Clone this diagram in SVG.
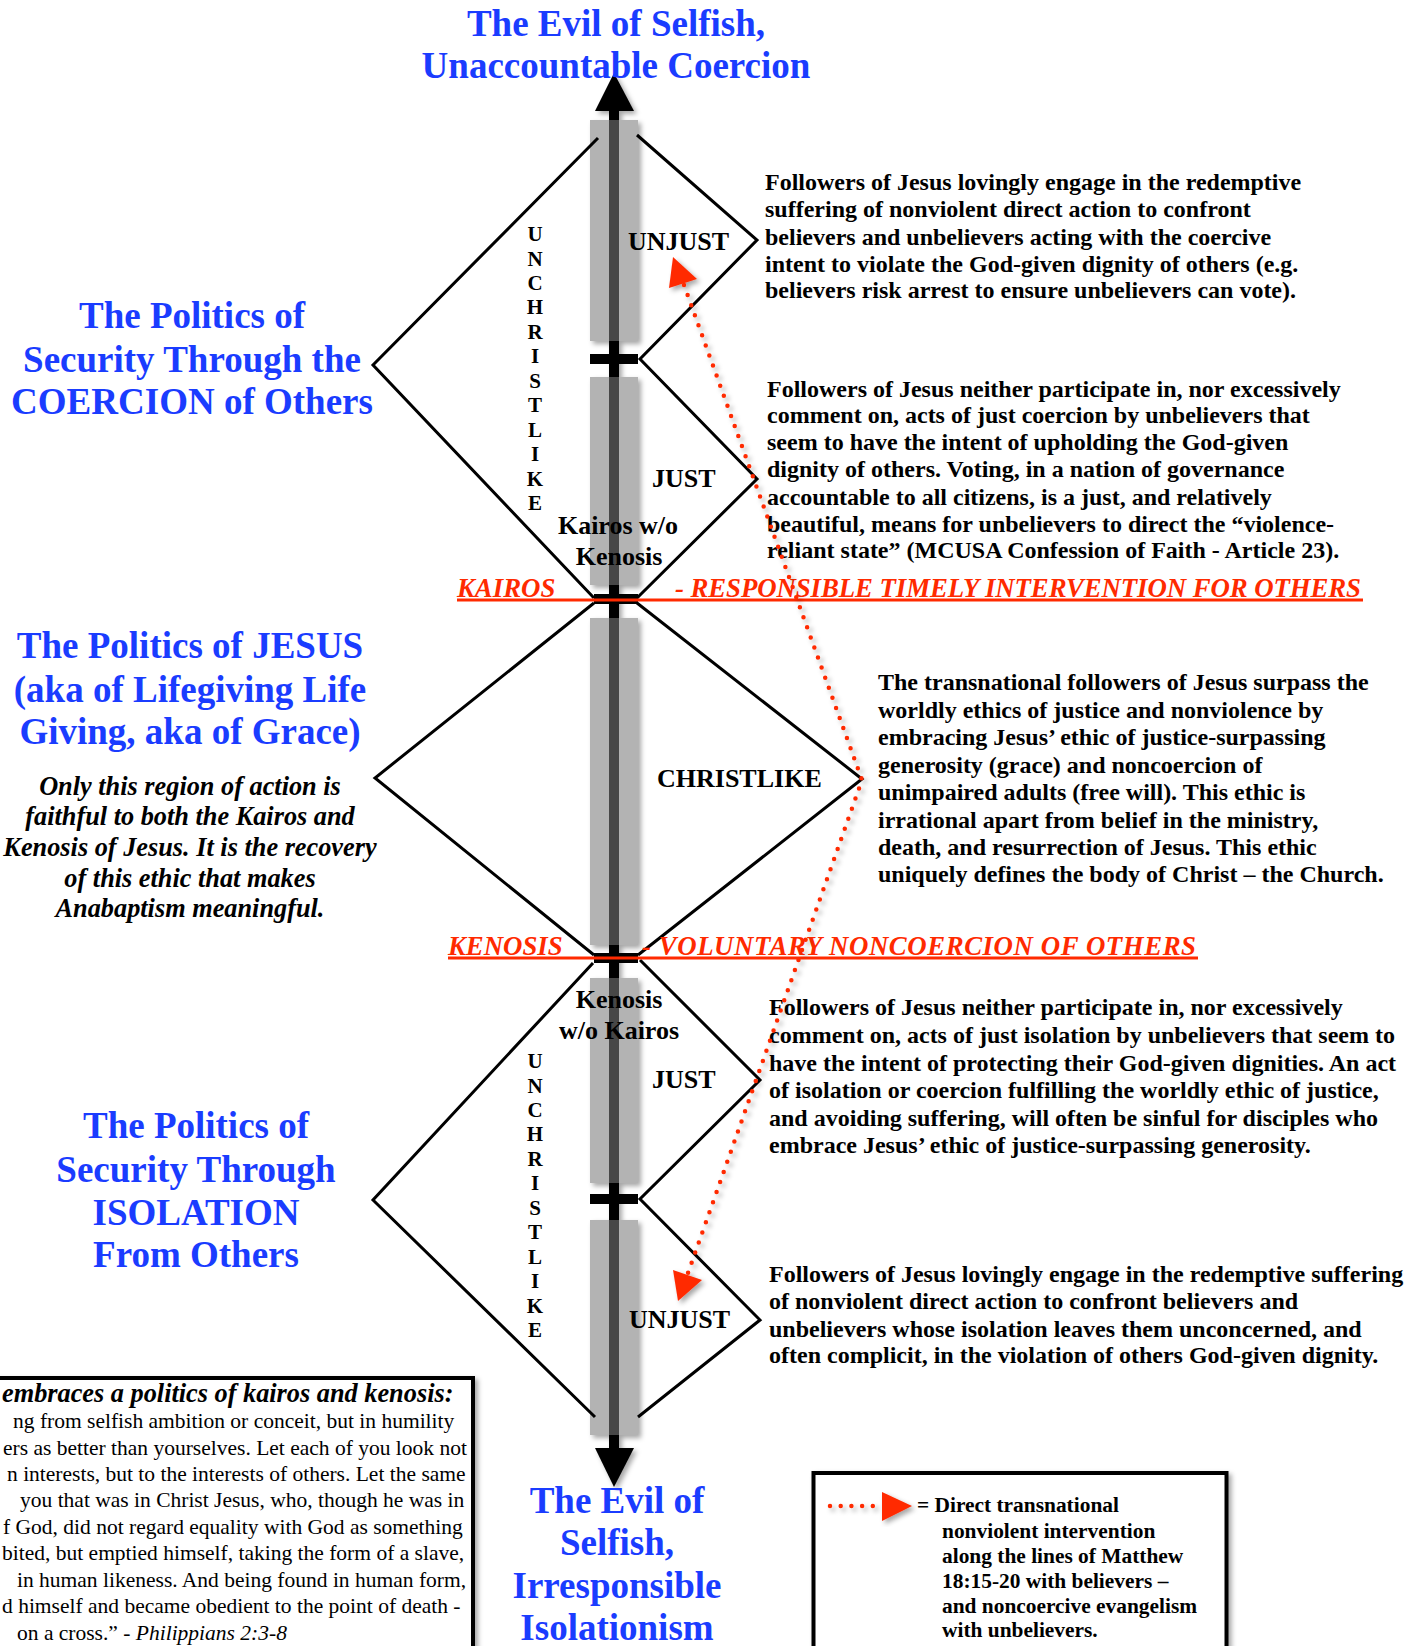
<svg xmlns="http://www.w3.org/2000/svg" width="1419" height="1646" viewBox="0 0 1419 1646">
<defs>
<style>
.blue{font-family:"Liberation Serif","Times New Roman",serif;font-weight:bold;font-size:37px;fill:#1a3cff;text-anchor:middle}
.lbl{font-family:"Liberation Serif","Times New Roman",serif;font-weight:bold;font-size:26px;fill:#000}
.mid{text-anchor:middle}
.body{font-family:"Liberation Serif","Times New Roman",serif;font-weight:bold;font-size:24px;fill:#000}
.ital{font-family:"Liberation Serif","Times New Roman",serif;font-weight:bold;font-style:italic;font-size:26.3px;fill:#000;text-anchor:middle}
.red{font-family:"Liberation Serif","Times New Roman",serif;font-weight:bold;font-style:italic;font-size:26.8px;fill:#ff2a00}
.vert{font-family:"Liberation Serif","Times New Roman",serif;font-weight:bold;font-size:21px;fill:#000;text-anchor:middle}
.quote{font-family:"Liberation Serif","Times New Roman",serif;font-size:21.5px;fill:#000}
.legend{font-family:"Liberation Serif","Times New Roman",serif;font-weight:bold;font-size:21.4px;fill:#000}
.diamond{fill:none;stroke:#000;stroke-width:3;stroke-linejoin:miter}
.band{fill:#b3b3b3}
.core{stroke:#474747;stroke-width:10}
.tick{fill:#000}
.redline{stroke:#ff2a00;stroke-width:3}
.dots{fill:none;stroke:#ff2a00;stroke-width:4.5;stroke-linecap:round;stroke-dasharray:0 10.7}
.head{fill:#ff2a00}
.box{fill:#fff;stroke:#000;stroke-width:4}
</style>
<filter id="sh" x="-20%" y="-20%" width="140%" height="140%"><feDropShadow dx="3" dy="3" stdDeviation="2.5" flood-color="#000" flood-opacity="0.35"/></filter>
</defs>
<rect x="0" y="0" width="1419" height="1646" fill="#fff"/>

<g id="axis">
  <g filter="url(#sh)">
    <line x1="614" y1="105" x2="614" y2="1452" stroke="#000" stroke-width="10"/>
    <polygon points="614,73 595,111 634,111" fill="#000"/>
    <polygon points="614,1487 595,1448 634,1448" fill="#000"/>
    <rect class="band" x="590" y="120" width="48" height="221"/>
    <rect class="band" x="590" y="377" width="48" height="208"/>
    <rect class="band" x="590" y="618" width="48" height="327"/>
    <rect class="band" x="590" y="978" width="48" height="205"/>
    <rect class="band" x="590" y="1220" width="48" height="215"/>
  </g>
  <line class="core" x1="614" y1="120" x2="614" y2="341"/>
  <line class="core" x1="614" y1="377" x2="614" y2="585"/>
  <line class="core" x1="614" y1="618" x2="614" y2="945"/>
  <line class="core" x1="614" y1="978" x2="614" y2="1183"/>
  <line class="core" x1="614" y1="1220" x2="614" y2="1435"/>
  <rect class="tick" x="590" y="354" width="48" height="10"/>
  <rect class="tick" x="590" y="1194" width="48" height="10"/>
  <rect class="tick" x="594" y="594" width="44" height="10"/>
  <rect class="tick" x="594" y="953" width="44" height="10"/>
</g>

<g id="coercion-region">
  <polyline class="diamond" points="598,138 373,365 594,598"/>
  <polyline class="diamond" points="637,135 757,240 640,359 757,479 637,598"/>
  <text class="vert"><tspan x="535" y="241">U</tspan><tspan x="535" y="265.5">N</tspan><tspan x="535" y="290">C</tspan><tspan x="535" y="314.4">H</tspan><tspan x="535" y="338.8">R</tspan><tspan x="535" y="363.3">I</tspan><tspan x="535" y="387.7">S</tspan><tspan x="535" y="412.2">T</tspan><tspan x="535" y="436.6">L</tspan><tspan x="535" y="461">I</tspan><tspan x="535" y="485.5">K</tspan><tspan x="535" y="510">E</tspan></text>
  <text class="lbl" x="628" y="250">UNJUST</text>
  <text class="lbl" x="652" y="487">JUST</text>
  <text class="lbl mid" x="618" y="534">Kairos w/o</text>
  <text class="lbl mid" x="619" y="565">Kenosis</text>
</g>

<g id="christlike-region">
  <polyline class="diamond" points="594,603 375,778 594,955"/>
  <polyline class="diamond" points="637,603 862,779 638,955"/>
  <text class="lbl" x="657" y="787">CHRISTLIKE</text>
</g>

<g id="isolation-region">
  <polyline class="diamond" points="593,963 373,1200 595,1417"/>
  <polyline class="diamond" points="640,960 760,1080 640,1199 760,1320 638,1417"/>
  <text class="vert"><tspan x="535" y="1068">U</tspan><tspan x="535" y="1092.5">N</tspan><tspan x="535" y="1117">C</tspan><tspan x="535" y="1141.4">H</tspan><tspan x="535" y="1165.8">R</tspan><tspan x="535" y="1190.3">I</tspan><tspan x="535" y="1214.7">S</tspan><tspan x="535" y="1239.2">T</tspan><tspan x="535" y="1263.6">L</tspan><tspan x="535" y="1288">I</tspan><tspan x="535" y="1312.5">K</tspan><tspan x="535" y="1337">E</tspan></text>
  <text class="lbl mid" x="619" y="1008">Kenosis</text>
  <text class="lbl mid" x="619" y="1039">w/o Kairos</text>
  <text class="lbl" x="652" y="1088">JUST</text>
  <text class="lbl" x="629" y="1328">UNJUST</text>
</g>

<g id="kairos-line">
  <line class="redline" x1="457" y1="600" x2="1363" y2="600"/>
  <text class="red" x="457" y="597">KAIROS</text>
  <text class="red" x="675" y="597" textLength="686">- RESPONSIBLE TIMELY INTERVENTION FOR OTHERS</text>
</g>
<g id="kenosis-line">
  <line class="redline" x1="448" y1="958" x2="1198" y2="958"/>
  <text class="red" x="448" y="955">KENOSIS</text>
  <text class="red" x="642" y="955" textLength="554">- VOLUNTARY NONCOERCION OF OTHERS</text>
</g>

<g id="title-top">
  <text class="blue" x="616" y="36">The Evil of Selfish,</text>
  <text class="blue" x="616" y="78">Unaccountable Coercion</text>
</g>
<g id="title-coercion">
  <text class="blue" x="192" y="328">The Politics of</text>
  <text class="blue" x="192" y="372">Security Through the</text>
  <text class="blue" x="192" y="414">COERCION of Others</text>
</g>
<g id="title-jesus">
  <text class="blue" x="190" y="658">The Politics of JESUS</text>
  <text class="blue" x="190" y="702">(aka of Lifegiving Life</text>
  <text class="blue" x="190" y="744">Giving, aka of Grace)</text>
  <text class="ital" x="190" y="795">Only this region of action is</text>
  <text class="ital" x="190" y="825">faithful to both the Kairos and</text>
  <text class="ital" x="190" y="856">Kenosis of Jesus. It is the recovery</text>
  <text class="ital" x="190" y="887">of this ethic that makes</text>
  <text class="ital" x="190" y="917">Anabaptism meaningful.</text>
</g>
<g id="title-isolation">
  <text class="blue" x="196" y="1138">The Politics of</text>
  <text class="blue" x="196" y="1182">Security Through</text>
  <text class="blue" x="196" y="1225">ISOLATION</text>
  <text class="blue" x="196" y="1267">From Others</text>
</g>
<g id="title-bottom">
  <text class="blue" x="617" y="1513">The Evil of</text>
  <text class="blue" x="617" y="1555">Selfish,</text>
  <text class="blue" x="617" y="1598">Irresponsible</text>
  <text class="blue" x="617" y="1640">Isolationism</text>
</g>

<g id="text-unjust-coercion" class="body">
  <text x="765" y="190">Followers of Jesus lovingly engage in the redemptive</text>
  <text x="765" y="217">suffering of nonviolent direct action to confront</text>
  <text x="765" y="245">believers and unbelievers acting with the coercive</text>
  <text x="765" y="272">intent to violate the God-given dignity of others (e.g.</text>
  <text x="765" y="298">believers risk arrest to ensure unbelievers can vote).</text>
</g>
<g id="text-just-coercion" class="body">
  <text x="767" y="397">Followers of Jesus neither participate in, nor excessively</text>
  <text x="767" y="423">comment on, acts of just coercion by unbelievers that</text>
  <text x="767" y="450">seem to have the intent of upholding the God-given</text>
  <text x="767" y="477">dignity of others. Voting, in a nation of governance</text>
  <text x="767" y="505">accountable to all citizens, is a just, and relatively</text>
  <text x="767" y="532">beautiful, means for unbelievers to direct the “violence-</text>
  <text x="767" y="558">reliant state” (MCUSA Confession of Faith - Article 23).</text>
</g>
<g id="text-christlike" class="body">
  <text x="878" y="690">The transnational followers of Jesus surpass the</text>
  <text x="878" y="718">worldly ethics of justice and nonviolence by</text>
  <text x="878" y="745">embracing Jesus’ ethic of justice-surpassing</text>
  <text x="878" y="773">generosity (grace) and noncoercion of</text>
  <text x="878" y="800">unimpaired adults (free will). This ethic is</text>
  <text x="878" y="828">irrational apart from belief in the ministry,</text>
  <text x="878" y="855">death, and resurrection of Jesus. This ethic</text>
  <text x="878" y="882">uniquely defines the body of Christ – the Church.</text>
</g>
<g id="text-just-isolation" class="body">
  <text x="769" y="1015">Followers of Jesus neither participate in, nor excessively</text>
  <text x="769" y="1043">comment on, acts of just isolation by unbelievers that seem to</text>
  <text x="769" y="1071">have the intent of protecting their God-given dignities. An act</text>
  <text x="769" y="1098">of isolation or coercion fulfilling the worldly ethic of justice,</text>
  <text x="769" y="1126">and avoiding suffering, will often be sinful for disciples who</text>
  <text x="769" y="1153">embrace Jesus’ ethic of justice-surpassing generosity.</text>
</g>
<g id="text-unjust-isolation" class="body">
  <text x="769" y="1282">Followers of Jesus lovingly engage in the redemptive suffering</text>
  <text x="769" y="1309">of nonviolent direct action to confront believers and</text>
  <text x="769" y="1337">unbelievers whose isolation leaves them unconcerned, and</text>
  <text x="769" y="1363">often complicit, in the violation of others God-given dignity.</text>
</g>

<g id="connectors" filter="url(#sh)">
  <path class="dots" d="M684,285 L862,780 L688,1273"/>
  <polygon class="head" points="673,257 669,288 697,279"/>
  <polygon class="head" points="678,1301 673,1270 702,1280"/>
</g>

<g id="quote-box">
  <rect class="box" x="-10" y="1378" width="483" height="300" filter="url(#sh)"/>
  <text class="ital" x="2" y="1402" style="text-anchor:start">embraces a politics of kairos and kenosis:</text>
  <text class="quote" x="13" y="1428">ng from selfish ambition or conceit, but in humility</text>
  <text class="quote" x="3" y="1455">ers as better than yourselves. Let each of you look not</text>
  <text class="quote" x="7" y="1481">n interests, but to the interests of others. Let the same</text>
  <text class="quote" x="20" y="1507">you that was in Christ Jesus, who, though he was in</text>
  <text class="quote" x="3" y="1534">f God, did not regard equality with God as something</text>
  <text class="quote" x="2" y="1560">bited, but emptied himself, taking the form of a slave,</text>
  <text class="quote" x="17" y="1587">in human likeness. And being found in human form,</text>
  <text class="quote" x="2" y="1613">d himself and became obedient to the point of death -</text>
  <text class="quote" x="17" y="1640">on a cross.” - <tspan font-style="italic">Philippians 2:3-8</tspan></text>
</g>

<g id="legend-box">
  <rect class="box" x="813.5" y="1473" width="413" height="200" filter="url(#sh)"/>
  <g filter="url(#sh)">
    <line class="dots" x1="830" y1="1506" x2="876" y2="1506"/>
    <polygon class="head" points="882,1492 912,1506 882,1521"/>
  </g>
  <text class="legend" x="917" y="1512">= Direct transnational</text>
  <text class="legend" x="942" y="1538">nonviolent intervention</text>
  <text class="legend" x="942" y="1563">along the lines of Matthew</text>
  <text class="legend" x="942" y="1588">18:15-20 with believers –</text>
  <text class="legend" x="942" y="1613">and noncoercive evangelism</text>
  <text class="legend" x="942" y="1637">with unbelievers.</text>
</g>
</svg>
